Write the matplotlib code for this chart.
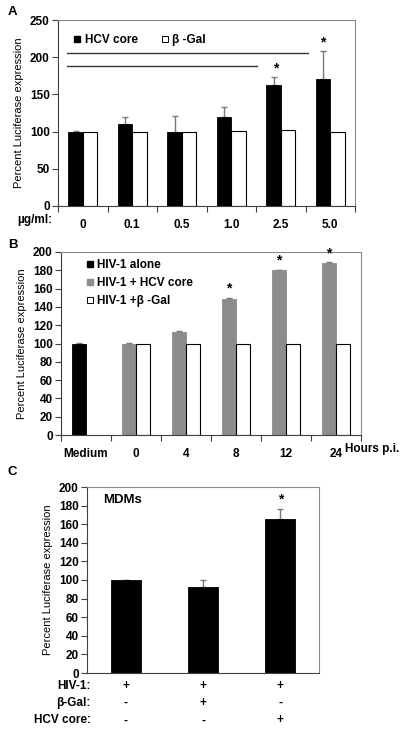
import numpy as np
import matplotlib
matplotlib.use("Agg")
from matplotlib import pyplot as plt
from matplotlib.lines import Line2D
from matplotlib.transforms import blended_transform_factory

plt.rcParams['font.family'] = ['Liberation Sans', 'DejaVu Sans']
plt.rcParams['font.weight'] = 'bold'
plt.rcParams['font.size'] = 8.5

# panel A: dose response
doses = ["0", "0.1", "0.5", "1.0", "2.5", "5.0"]
hcv_a = [100, 110, 100, 120, 162, 171]
hcv_a_err = [0.5, 9, 21, 13, 12, 38]
gal_a = [100, 99, 100, 101, 102, 99]
star_a = [4, 5]
# comparison lines (from, to, height)
brackets_a = [(-0.32, 4.55, 205), (-0.32, 3.52, 188)]

# panel B: time course
times = ["Medium", "0", "4", "8", "12", "24"]
alone_b = [100]
alone_b_err = [1]
hcv_b = [100, 113, 149, 180, 188]
hcv_b_err = [1, 1, 1, 0.5, 1]
gal_b = [100, 99, 100, 100, 100]
star_b = [3, 4, 5]

# panel C: MDMs
mdm_vals = [100, 93, 166]
mdm_err = [0.5, 7, 10]
rows_c = ["HIV-1:", "β-Gal:", "HCV core:"]
signs_c = [["+", "+", "+"], ["-", "+", "-"], ["-", "-", "+"]]
star_c = [2]

frame_col = "#8a8a8a"
err_col = "#7a7a7a"
grey_bar = "#8c8c8c"


def style(ax):
    for s in ["top", "right"]:
        ax.spines[s].set_color(frame_col)
    for s in ["left", "bottom"]:
        ax.spines[s].set_color("#404040")
    ax.tick_params(axis="y", direction="out", length=4, width=0.8, colors="#404040",
                   labelcolor="black", pad=2)


def errs(ax, x, y, e):
    ax.errorbar(x, y, yerr=[np.zeros(len(e)), e], fmt="none", ecolor=err_col,
                elinewidth=1, capsize=2.5, capthick=1, zorder=1)


fig = plt.figure(figsize=(4, 7.3), dpi=100)

# ---- A
ax = fig.add_axes([58 / 400, 1 - 206 / 730, 297 / 400, 186 / 730])
x = np.arange(len(doses))
w = 0.29
errs(ax, x - w / 2, hcv_a, hcv_a_err)
ax.bar(x - w / 2, hcv_a, w, color="black", edgecolor="black", lw=0.6, zorder=2)
ax.bar(x + w / 2, gal_a, w, color="white", edgecolor="black", lw=0.8, zorder=2)
for x0, x1, yv in brackets_a:
    ax.plot([x0, x1], [yv, yv], color="#333333", lw=1)
for i in star_a:
    ax.text(i - w / 2 + (0.05 if i == 4 else 0), hcv_a[i] + hcv_a_err[i] + 2, "*",
            ha="center", va="bottom", fontsize=10)
ax.set_xlim(-0.5, len(doses) - 0.5)
ax.set_ylim(0, 250)
ax.set_yticks(np.arange(0, 251, 50))
ax.set_xticks(x)
ax.set_xticklabels(doses)
ax.set_xticks(np.arange(-0.5, len(doses)), minor=True)
ax.tick_params(axis="x", which="major", length=0, pad=9)
ax.tick_params(axis="x", which="minor", length=4, width=0.8, colors="#404040")
style(ax)
ax.set_ylabel("Percent Luciferase expression", fontsize=8, labelpad=4)
ax.text(-0.02, -0.075, "µg/ml:", transform=ax.transAxes, ha="right", va="center")
hA = [Line2D([], [], ls="", marker="s", ms=5, mfc="black", mec="black"),
      Line2D([], [], ls="", marker="s", ms=5, mfc="white", mec="black", mew=0.7)]
ax.legend(hA, ["HCV core", "β -Gal"], ncol=2, frameon=False, loc="upper left",
          bbox_to_anchor=(0.01, 0.98), handletextpad=0.1, columnspacing=1.8,
          handlelength=1, fontsize=8.5)
fig.text(8 / 400, 1 - 12 / 730, "A", fontsize=9.5, va="center")

# ---- B
ax = fig.add_axes([61 / 400, 1 - 435 / 730, 300 / 400, 183 / 730])
x = np.arange(len(times))
w = 0.28
errs(ax, x[:1] - w / 2, alone_b, alone_b_err)
errs(ax, x[1:] - w / 2, hcv_b, hcv_b_err)
ax.bar(x[:1] - w / 2, alone_b, w, color="black", edgecolor="black", lw=0.6, zorder=2)
ax.bar(x[1:] - w / 2, hcv_b, w, color=grey_bar, edgecolor=grey_bar, lw=0.6, zorder=2)
ax.bar(x[1:] + w / 2, gal_b, w, color="white", edgecolor="black", lw=0.8, zorder=2)
for i in star_b:
    ax.text(i - w / 2, hcv_b[i - 1] + 3, "*", ha="center", va="bottom", fontsize=10)
ax.set_xlim(-0.5, len(times) - 0.5)
ax.set_ylim(0, 200)
ax.set_yticks(np.arange(0, 201, 20))
ax.set_xticks(x)
ax.set_xticklabels(times)
ax.set_xticks(np.arange(-0.5, len(times)), minor=True)
ax.tick_params(axis="x", which="major", length=0, pad=9)
ax.tick_params(axis="x", which="minor", length=4, width=0.8, colors="#404040")
style(ax)
ax.set_ylabel("Percent Luciferase expression", fontsize=8, labelpad=4)
ax.text(0.947, -0.075, "Hours p.i.", transform=ax.transAxes, ha="left", va="center")
hB = [Line2D([], [], ls="", marker="s", ms=5, mfc="black", mec="black"),
      Line2D([], [], ls="", marker="s", ms=5, mfc=grey_bar, mec=grey_bar),
      Line2D([], [], ls="", marker="s", ms=5, mfc="white", mec="black", mew=0.7)]
ax.legend(hB, ["HIV-1 alone", "HIV-1 + HCV core", "HIV-1 +β -Gal"], frameon=False,
          loc="upper left", bbox_to_anchor=(0.04, 1.02), handletextpad=0.1,
          handlelength=1, labelspacing=0.5, fontsize=8.5)
fig.text(8 / 400, 1 - 245 / 730, "B", fontsize=9.5, va="center")
fig.text(8 / 400, 1 - 472 / 730, "C", fontsize=9.5, va="center")

# ---- C
ax = fig.add_axes([87 / 400, 1 - 673 / 730, 232 / 400, 186 / 730])
x = np.arange(len(mdm_vals))
w = 0.39
errs(ax, x, mdm_vals, mdm_err)
ax.bar(x, mdm_vals, w, color="black", edgecolor="black", lw=0.6, zorder=2)
for i in star_c:
    ax.text(i, mdm_vals[i] + mdm_err[i] + 3, "*", ha="center", va="bottom", fontsize=10)
ax.set_xlim(-0.5, len(mdm_vals) - 0.5)
ax.set_ylim(0, 200)
ax.set_yticks(np.arange(0, 201, 20))
ax.set_xticks([])
style(ax)
ax.set_ylabel("Percent Luciferase expression", fontsize=8, labelpad=4)
ax.text(0.07, 0.93, "MDMs", transform=ax.transAxes, fontsize=9.5, va="center")
tr = blended_transform_factory(ax.transData, ax.transAxes)
row_y = [-0.07, -0.16, -0.255]
for r, lab in enumerate(rows_c):
    ax.text(0.017, row_y[r], lab, transform=ax.transAxes, ha="right", va="center")
    for j, s in enumerate(signs_c[r]):
        ax.text(x[j], row_y[r], s, transform=tr, ha="center", va="center")

fig.savefig("out.png", dpi=100)
